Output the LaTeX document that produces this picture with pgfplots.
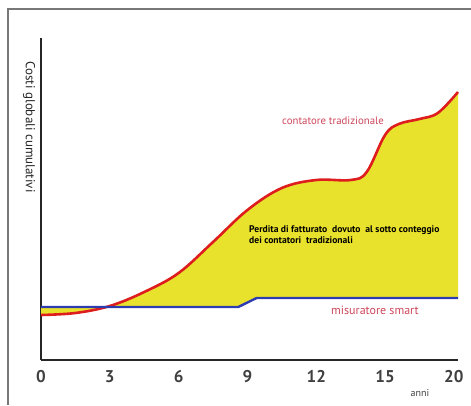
\documentclass[border=0pt]{standalone}
\usepackage{fontspec}
\setmainfont{PT Sans}
\setsansfont{PT Sans}
\usepackage{pgfplots}
\pgfplotsset{compat=1.18}
\usepgfplotslibrary{fillbetween}
\definecolor{cred}{RGB}{222,30,30}
\definecolor{cblue}{RGB}{45,60,175}
\definecolor{cyel}{RGB}{233,226,45}
\definecolor{cpink}{RGB}{205,70,90}
\definecolor{cframe}{RGB}{120,120,120}
\begin{document}
\begin{tikzpicture}[x=1pt,y=1pt]
\begin{axis}[
  at={(41pt,45pt)}, anchor=south west,
  scale only axis, width=417pt, height=322pt,
  xmin=0, xmax=18.18, ymin=0, ymax=322,
  axis lines=left,
  axis line style={-, line width=1.6pt, black!85},
  xtick={0,3,6,9,12,15,18},
  xticklabels={0,3,6,9,12,15,20},
  ytick=\empty,
  major tick length=0pt,
  tick style={draw=none},
  xticklabel style={font=\fontsize{17}{19}\selectfont\bfseries, text=black!75, yshift=-7pt},
  /pgf/number format/assume math mode=true,
  clip=false,
]
\addplot[name path=red, cred, line width=2.6pt, smooth, tension=0.6] coordinates {
(0,45) (1.5,47) (3,54) (4.5,68) (6,87) (7.5,118) (9,150) (10.5,172) (12,180) (13.5,180) (14.2,188) (15,225) (15.6,236) (16.5,241) (17.3,247) (18.18,268)
};
\addplot[name path=blue, cblue, line width=2.4pt] coordinates {
(0,53) (8.6,53) (9.4,62) (18.18,62)
};
\addplot[cyel] fill between[of=red and blue];
\node[text=cpink, font=\fontsize{10.8}{12}\selectfont] at (axis cs:12.73,239) {contatore tradizionale};
\node[text=cpink, font=\fontsize{12}{14}\selectfont] at (axis cs:14.56,50) {misuratore smart};
\node[anchor=west, align=left, font=\fontsize{9.6}{11}\selectfont\bfseries, inner sep=0pt] at (axis cs:9.07,125.5) {Perdita di fatturato \ dovuto \ al sotto conteggio\\dei contatori \ tradizionali};
\end{axis}
\node[font=\fontsize{13}{15}\selectfont, text=black!85, rotate=-90] at (29,278) {Costi globali cumulativi};
\node[font=\fontsize{10}{12}\selectfont, text=black!75] at (420,12) {anni};
\draw[cframe,line width=1.3pt] (8,0) -- (8,396) -- (471,396);
\pgfresetboundingbox
\useasboundingbox (0,0) rectangle (471,405);
\end{tikzpicture}
\end{document}
